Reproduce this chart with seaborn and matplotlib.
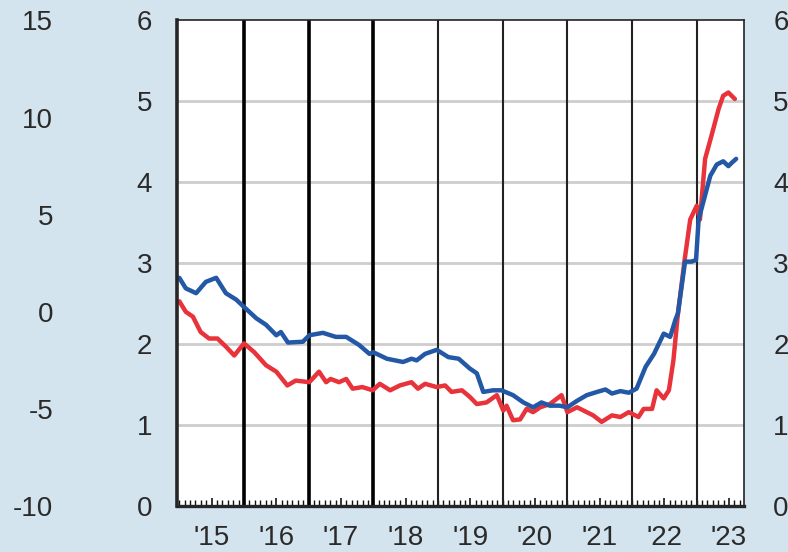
import seaborn as sns
import matplotlib.pyplot as plt
import matplotlib.ticker as ticker

# values (fractional year, level)
blue_t = [2015.00, 2015.10, 2015.26, 2015.41, 2015.57, 2015.72, 2015.88, 2016.00, 2016.19, 2016.34,
          2016.50, 2016.57, 2016.68, 2016.91, 2017.01, 2017.22, 2017.42, 2017.58, 2017.78, 2017.94,
          2018.00, 2018.21, 2018.46, 2018.59, 2018.67, 2018.80, 2018.98, 2019.16, 2019.32, 2019.49,
          2019.60, 2019.70, 2019.85, 2019.98, 2020.16, 2020.32, 2020.47, 2020.60, 2020.73, 2020.88,
          2021.00, 2021.15, 2021.30, 2021.46, 2021.59, 2021.69, 2021.82, 2021.95, 2022.07, 2022.21,
          2022.34, 2022.49, 2022.59, 2022.67, 2022.71, 2022.82, 2022.92, 2022.99, 2023.03, 2023.10,
          2023.21, 2023.31, 2023.41, 2023.49, 2023.54, 2023.61]
blue_v = [2.82, 2.69, 2.63, 2.77, 2.82, 2.63, 2.55, 2.46, 2.32, 2.24,
          2.11, 2.15, 2.02, 2.03, 2.11, 2.14, 2.09, 2.09, 1.99, 1.88,
          1.90, 1.82, 1.78, 1.82, 1.80, 1.88, 1.93, 1.84, 1.82, 1.70,
          1.64, 1.41, 1.43, 1.43, 1.37, 1.28, 1.22, 1.28, 1.24, 1.24,
          1.22, 1.30, 1.37, 1.41, 1.44, 1.39, 1.42, 1.40, 1.45, 1.72,
          1.88, 2.13, 2.09, 2.30, 2.38, 3.02, 3.02, 3.04, 3.54, 3.75,
          4.08, 4.22, 4.26, 4.20, 4.24, 4.29]

red_t = [2015.00, 2015.10, 2015.21, 2015.33, 2015.46, 2015.59, 2015.72, 2015.85, 2016.00, 2016.16,
         2016.34, 2016.50, 2016.67, 2016.80, 2017.01, 2017.16, 2017.27, 2017.34, 2017.47, 2017.58,
         2017.68, 2017.83, 2017.99, 2018.10, 2018.26, 2018.41, 2018.59, 2018.69, 2018.80, 2018.98,
         2019.11, 2019.21, 2019.37, 2019.49, 2019.60, 2019.75, 2019.91, 2020.01, 2020.06, 2020.16,
         2020.27, 2020.37, 2020.47, 2020.58, 2020.73, 2020.91, 2021.00, 2021.15, 2021.30, 2021.40,
         2021.53, 2021.69, 2021.82, 2021.95, 2022.10, 2022.18, 2022.31, 2022.38, 2022.49, 2022.57,
         2022.64, 2022.71, 2022.82, 2022.90, 2023.00, 2023.05, 2023.13, 2023.23, 2023.34, 2023.41,
         2023.49, 2023.59]
red_v = [2.53, 2.40, 2.34, 2.15, 2.07, 2.07, 1.97, 1.86, 2.01, 1.90,
         1.74, 1.66, 1.49, 1.55, 1.53, 1.66, 1.53, 1.57, 1.53, 1.57,
         1.45, 1.47, 1.43, 1.51, 1.43, 1.49, 1.53, 1.45, 1.51, 1.47,
         1.49, 1.41, 1.43, 1.35, 1.26, 1.28, 1.37, 1.18, 1.24, 1.06,
         1.07, 1.20, 1.16, 1.22, 1.26, 1.37, 1.16, 1.22, 1.16, 1.12,
         1.04, 1.12, 1.10, 1.16, 1.10, 1.20, 1.20, 1.43, 1.33, 1.43,
         1.80, 2.38, 3.08, 3.54, 3.71, 3.54, 4.29, 4.58, 4.91, 5.07,
         5.11, 5.03]

years = list(range(2015, 2024))
year_labels = ["'15", "'16", "'17", "'18", "'19", "'20", "'21", "'22", "'23"]
thick_years = [2016, 2017, 2018]
outer_ticks = [-10, -5, 0, 5, 10, 15]
inner_ticks = [0, 1, 2, 3, 4, 5, 6]

bg = '#d3e4ee'
txt = '#2a2a2a'

sns.set_style('white')
plt.rcParams['font.family'] = ['Liberation Sans', 'DejaVu Sans']
plt.rcParams['axes.unicode_minus'] = False

fig = plt.figure(figsize=(7.88, 5.52), dpi=100, facecolor=bg)
ax = fig.add_axes([0.2246, 0.0833, 0.7196, 0.8796])
ax.set_facecolor('white')

# horizontal grid
for v in inner_ticks[1:-1]:
    ax.axhline(v, color='#cdcdcd', lw=2, zorder=1)
# year separators
for y in years[1:]:
    if y in thick_years:
        ax.axvline(y, color='black', lw=2.6, zorder=2)
    else:
        ax.axvline(y, color='#222222', lw=1.5, zorder=2)

sns.lineplot(x=red_t, y=red_v, color='#e8333b', lw=3.2, ax=ax, zorder=3)
sns.lineplot(x=blue_t, y=blue_v, color='#2358a6', lw=3.2, ax=ax, zorder=4)

ax.set_xlim(2014.964, 2023.732)
ax.set_ylim(0, 6)
ax.set_xlabel('')
ax.set_ylabel('')

ax.xaxis.set_major_locator(ticker.FixedLocator([y + 0.5 for y in years]))
ax.xaxis.set_major_formatter(ticker.FixedFormatter(year_labels))
ax.xaxis.set_minor_locator(ticker.FixedLocator([y + m / 12 for y in years for m in range(12)]))
ax.tick_params(axis='x', which='major', direction='in', length=6, width=1.1, color='black',
               labelsize=20, labelcolor=txt, pad=14, bottom=True)
ax.tick_params(axis='x', which='minor', direction='in', length=4, width=1, color='#111111', bottom=True)

ax.set_yticks(inner_ticks)
ax.tick_params(axis='y', length=0, labelsize=20, labelcolor=txt, pad=18)

for side in ['top', 'right']:
    ax.spines[side].set_linewidth(1.2)
    ax.spines[side].set_color('#222222')
ax.spines['left'].set_linewidth(2.6)
ax.spines['bottom'].set_linewidth(2.4)
for side in ax.spines:
    ax.spines[side].set_visible(True)
    ax.spines[side].set_zorder(5)

# outer left scale
ax2 = ax.twinx()
ax2.set_ylim(-10, 15)
ax2.set_yticks(outer_ticks)
ax2.yaxis.tick_left()
ax2.spines['left'].set_position(('outward', 89))
for side in ax2.spines:
    ax2.spines[side].set_visible(False)
ax2.tick_params(axis='y', length=0, labelsize=20, labelcolor=txt, pad=0)

# right scale
ax3 = ax.twinx()
ax3.set_ylim(0, 6)
ax3.set_yticks(inner_ticks)
for side in ax3.spines:
    ax3.spines[side].set_visible(False)
ax3.tick_params(axis='y', length=0, labelsize=20, labelcolor=txt, pad=21)

fig.savefig('out.png', dpi=100, facecolor=bg)
